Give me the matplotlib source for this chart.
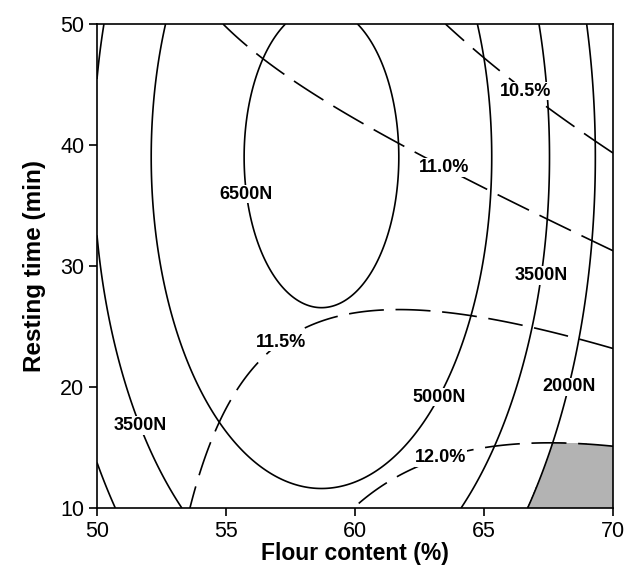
import numpy as np
import matplotlib
matplotlib.use("Agg")
import matplotlib.pyplot as plt

plt.rcParams['font.family'] = ['Liberation Sans', 'DejaVu Sans']

# Response-surface models
# Force (N): F = f0 - fx*(x-x0)^2 - fy*(y-y0)^2
force_coef = {"f0": 6890.0, "fx": 43.4, "fy": 2.52, "x0": 58.7, "y0": 39.0}
force_levels = [2000, 3500, 5000, 6500]
# Moisture (%): M = a + b*x + c*y + d*x^2 + e*x*y
moist_coef = {"a": -3.5414, "b": 0.43768, "c": 0.153, "d": -0.00289, "e": -0.00307}
moist_levels = [10.5, 11.0, 11.5, 12.0]

x_ticks = [50, 55, 60, 65, 70]
y_ticks = [10, 20, 30, 40, 50]

force_label_pos = [(56.0, 36.0), (51.5, 16.7), (67.0, 29.3), (63.3, 19.1), (68.3, 20.0)]
moist_label_pos = [(66.5, 44.1), (63.4, 37.9), (57.0, 24.1), (63.4, 13.7)]

x = np.linspace(50, 70, 500)
y = np.linspace(10, 50, 500)
X, Y = np.meshgrid(x, y)
fc = force_coef
F = fc["f0"] - fc["fx"] * (X - fc["x0"]) ** 2 - fc["fy"] * (Y - fc["y0"]) ** 2
mc = moist_coef
M = mc["a"] + mc["b"] * X + mc["c"] * Y + mc["d"] * X ** 2 + mc["e"] * X * Y

fig = plt.figure(figsize=(6.27, 5.73), dpi=100)
ax = fig.add_axes([0.1547, 0.1134, 0.8230, 0.8446])

# gray region: force < 2000 N and moisture > 12 %
region = np.where((F < force_levels[0]) & (M > moist_levels[-1]), 1.0, 0.0)
ax.contourf(X, Y, region, levels=[0.5, 1.5], colors=['#b3b3b3'])

cs_f = ax.contour(X, Y, F, levels=force_levels, colors='black', linewidths=1.2,
                  linestyles='solid')
cs_m = ax.contour(X, Y, M, levels=moist_levels, colors='black', linewidths=1.2)
cs_m.set_linestyle((0, (21, 7)))

ax.clabel(cs_f, fmt=lambda v: f"{int(v)}N", fontsize=13, manual=force_label_pos,
          inline=False)
ax.clabel(cs_m, fmt=lambda v: f"{v:.1f}%", fontsize=13, manual=moist_label_pos,
          inline=False)
for t in cs_f.labelTexts + cs_m.labelTexts:
    t.set_fontweight('bold')
    t.set_rotation(0)
    t.set_bbox(dict(facecolor='white', edgecolor='none', pad=0.5))
    t.set_zorder(5)

ax.set_xlim(50, 70)
ax.set_ylim(10, 50)
ax.set_xticks(x_ticks)
ax.set_yticks(y_ticks)
ax.tick_params(direction='out', length=6, width=1.2, labelsize=15.5, pad=3)
for s in ax.spines.values():
    s.set_linewidth(1.2)
ax.set_xlabel("Flour content (%)", fontsize=16.5, fontweight='bold', labelpad=0)
ax.set_ylabel("Resting time (min)", fontsize=17.5, fontweight='bold', labelpad=10)

fig.savefig("out.png", dpi=100)
